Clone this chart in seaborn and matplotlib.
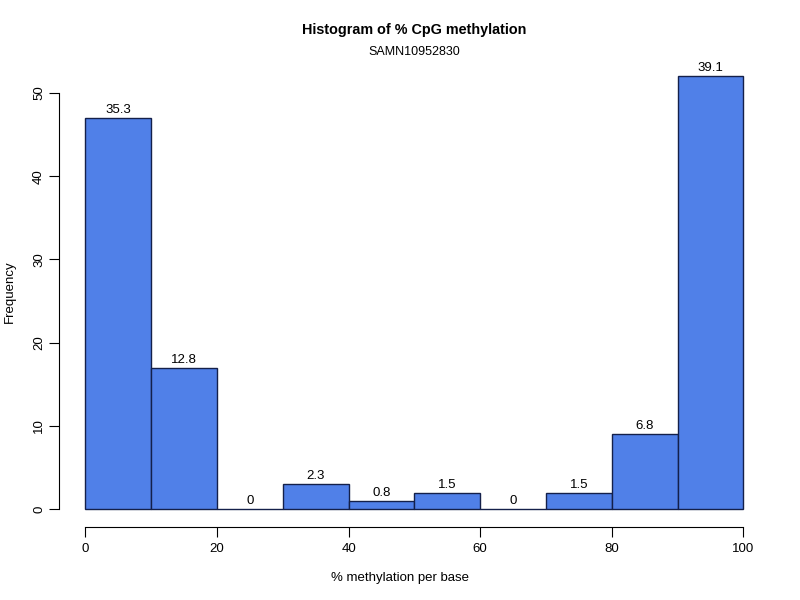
import numpy as np
import pandas as pd
import seaborn as sns
import matplotlib.pyplot as plt

# histogram bins and counts
bin_edges = [0, 10, 20, 30, 40, 50, 60, 70, 80, 90, 100]
counts = [47, 17, 0, 3, 1, 2, 0, 2, 9, 52]
pct_labels = ['35.3', '12.8', '0', '2.3', '0.8', '1.5', '0', '1.5', '6.8', '39.1']

df = pd.DataFrame({'mid': [(a + b) / 2 for a, b in zip(bin_edges[:-1], bin_edges[1:])],
                   'n': counts})

sns.set_style('white')
plt.rcParams['font.family'] = ['Liberation Sans', 'DejaVu Sans']
plt.rcParams['text.color'] = 'black'
plt.rcParams['xtick.color'] = 'black'
plt.rcParams['ytick.color'] = 'black'

fig = plt.figure(figsize=(8, 6), dpi=100)
# plot region like R's default margins
ax = fig.add_axes([59 / 800, 1 - 526.6 / 600, (769.8 - 59) / 800, (526.6 - 59) / 600])

sns.histplot(data=df, x='mid', weights='n', bins=bin_edges, ax=ax,
             color='#5080e8', alpha=1, edgecolor='#14204a', linewidth=1)

for p, lab in zip(ax.patches, pct_labels):
    ax.text(p.get_x() + p.get_width() / 2, p.get_height() + 0.25, lab,
            ha='center', va='bottom', fontsize=9.5)

ax.set_xlim(-4, 104)
ax.set_ylim(-2.08, 54.08)
ax.set_xticks([0, 20, 40, 60, 80, 100])
ax.set_yticks([0, 10, 20, 30, 40, 50])
ax.set_yticklabels(['0', '10', '20', '30', '40', '50'], rotation=90, va='center')

sns.despine(ax=ax)
ax.spines['left'].set_bounds(0, 50)
ax.spines['bottom'].set_bounds(0, 100)
for s in ['left', 'bottom']:
    ax.spines[s].set_color('black')
    ax.spines[s].set_linewidth(0.8)
ax.tick_params(axis='x', direction='out', length=7, width=0.8, color='black',
               labelsize=9.5, pad=5, bottom=True)
ax.tick_params(axis='y', direction='out', length=7, width=0.8, color='black',
               labelsize=9.5, pad=3, left=True)
ax.set_xlabel('')
ax.set_ylabel('')

fig.text(0.5, 1 - 578 / 600, '% methylation per base', ha='center', va='center', fontsize=9.5)
fig.text(10 / 800, 1 - 292 / 600, 'Frequency', ha='center', va='center', rotation=90,
         fontsize=9.5)
fig.text(0.5 + 14 / 800, 1 - 30 / 600, 'Histogram of % CpG methylation', ha='center',
         va='center', fontsize=10.4, fontweight='bold')
fig.text(0.5 + 14 / 800, 1 - 52 / 600, 'SAMN10952830', ha='center', va='center', fontsize=9)

fig.savefig('out.png', dpi=100, facecolor='white')
